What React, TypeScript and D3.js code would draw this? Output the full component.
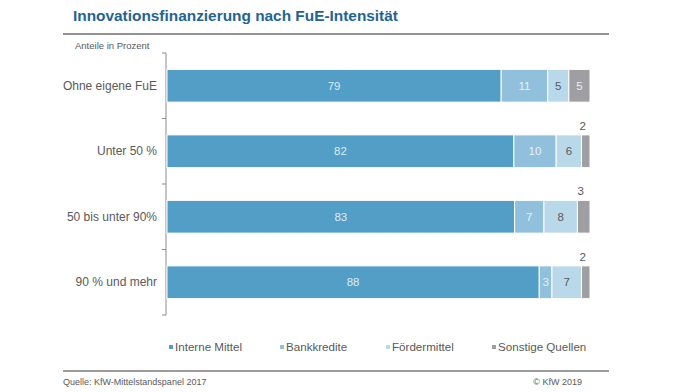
import { useRef, useEffect } from 'react'
import * as d3 from 'd3'

const categories = ['Ohne eigene FuE', 'Unter 50 %', '50 bis unter 90%', '90 % und mehr']
const seriesNames = ['Interne Mittel', 'Bankkredite', 'Fördermittel', 'Sonstige Quellen']
const interneMittel = [79, 82, 83, 88]
const bankkredite = [11, 10, 7, 3]
const foerdermittel = [5, 6, 8, 7]
const sonstige = [5, 2, 3, 2]

const colors = ['#529ec7', '#91c0dc', '#b9d8ea', '#9f9fa3']
const labelColors = ['#dcebf4', '#e6f1f8', '#5a5a5a', '#eeeeee']

const W = 696
const H = 392

export default function App() {
  const svgRef = useRef<SVGSVGElement>(null)

  useEffect(() => {
    if (!svgRef.current) return
    const svg = d3.select(svgRef.current)
    svg.selectAll('*').remove()
    const font = 'Liberation Sans, Arial, sans-serif'

    const rows = categories.map((c, i) => ({
      cat: c,
      'Interne Mittel': interneMittel[i],
      'Bankkredite': bankkredite[i],
      'Fördermittel': foerdermittel[i],
      'Sonstige Quellen': sonstige[i],
    }))

    // 100 % gestapelt wie in Excel
    const stacked = d3.stack<any>()
      .keys(seriesNames)
      .offset(d3.stackOffsetExpand)(rows)

    const x = d3.scaleLinear().domain([0, 1]).range([167, 590])
    const y = d3.scaleBand().domain(categories).range([53, 315]).paddingInner(0.5).paddingOuter(0.25)
    const step = y.step()

    // title + rules
    svg.append('text')
      .attr('x', 73).attr('y', 21)
      .attr('font-family', font).attr('font-weight', 'bold').attr('font-size', 15.4)
      .attr('fill', '#1f6493')
      .text('Innovationsfinanzierung nach FuE-Intensität')

    svg.append('line').attr('x1', 63).attr('x2', 609).attr('y1', 34).attr('y2', 34)
      .attr('stroke', '#6e6e6e').attr('stroke-width', 1.5)
    svg.append('line').attr('x1', 63).attr('x2', 609).attr('y1', 371).attr('y2', 371)
      .attr('stroke', '#7a7a7a').attr('stroke-width', 1.5)

    svg.append('text')
      .attr('x', 75).attr('y', 49)
      .attr('font-family', font).attr('font-size', 9.5).attr('fill', '#595959')
      .text('Anteile in Prozent')

    // axis
    const axis = svg.append('g')
    axis.append('line').attr('x1', 166).attr('x2', 166).attr('y1', 53).attr('y2', 315)
      .attr('stroke', '#8c8c8c')
    d3.range(categories.length + 1).forEach(i => {
      const yy = 53 + i * step
      axis.append('line').attr('x1', 162).attr('x2', 166).attr('y1', yy).attr('y2', yy)
        .attr('stroke', '#8c8c8c')
    })
    categories.forEach(c => {
      axis.append('text')
        .attr('x', 157).attr('y', (y(c) ?? 0) + y.bandwidth() / 2)
        .attr('dy', '0.35em').attr('text-anchor', 'end')
        .attr('font-family', font).attr('font-size', 12).attr('fill', '#595959')
        .text(c)
    })

    // bars
    const last = seriesNames.length - 1
    stacked.forEach((layer, si) => {
      const g = svg.append('g')
      layer.forEach((d, i) => {
        const cat = categories[i]
        const x0 = x(d[0])
        const x1 = x(d[1])
        const y0 = y(cat) ?? 0
        g.append('rect')
          .attr('x', x0).attr('y', y0)
          .attr('width', Math.max(0, x1 - x0)).attr('height', y.bandwidth())
          .attr('fill', colors[si])
          .attr('stroke', '#ffffff').attr('stroke-width', 1)
        const v = (rows[i] as any)[seriesNames[si]] as number
        // narrow end segments get their label above the bar
        const outside = si === last && x1 - x0 < 15
        g.append('text')
          .attr('x', (x0 + x1) / 2 - (outside ? 3 : 0))
          .attr('y', outside ? y0 - 9 : y0 + y.bandwidth() / 2)
          .attr('dy', '0.35em').attr('text-anchor', 'middle')
          .attr('font-family', font).attr('font-size', 11.5)
          .attr('fill', outside ? '#595959' : labelColors[si])
          .text(v)
      })
    })

    // legend
    const legendX = [169, 280, 386, 492]
    seriesNames.forEach((s, i) => {
      svg.append('rect')
        .attr('x', legendX[i]).attr('y', 345).attr('width', 4).attr('height', 4)
        .attr('fill', colors[i])
      svg.append('text')
        .attr('x', legendX[i] + 6).attr('y', 347)
        .attr('dy', '0.35em')
        .attr('font-family', font).attr('font-size', 11.6).attr('fill', '#595959')
        .text(s)
    })

    // footer
    svg.append('text')
      .attr('x', 63).attr('y', 385)
      .attr('font-family', font).attr('font-size', 9).attr('fill', '#595959')
      .text('Quelle:  KfW-Mittelstandspanel  2017')
    svg.append('text')
      .attr('x', 582).attr('y', 385).attr('text-anchor', 'end')
      .attr('font-family', font).attr('font-size', 9).attr('fill', '#595959')
      .text('© KfW 2019')
  }, [])

  return (
    <div style={{ position: 'absolute', left: 0, top: 0, width: W, height: H, background: '#fff' }}>
      <svg ref={svgRef} width={W} height={H} />
    </div>
  )
}
